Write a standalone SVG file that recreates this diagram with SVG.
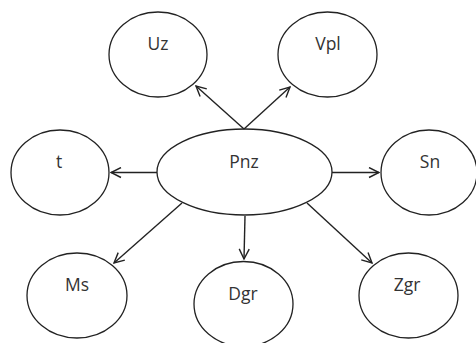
<svg xmlns="http://www.w3.org/2000/svg" width="476" height="343" viewBox="0 0 476 343">
<style>
.n ellipse{fill:#fff;stroke:#222;stroke-width:1.3}
.n text{font-family:"Open Sans","Liberation Sans",sans-serif;font-size:17.5px;fill:#333;text-anchor:middle}
.c line{stroke:#222;stroke-width:1.4;marker-end:url(#ah)}
</style>
<defs>
<marker id="ah" viewBox="0 0 12 12" refX="11" refY="6" markerWidth="12" markerHeight="12" markerUnits="userSpaceOnUse" orient="auto">
<path d="M1,1 L11,6 L1,11" fill="none" stroke="#222" stroke-width="1.4"/>
</marker>
</defs>
<rect width="476" height="343" fill="#fff"/>
<g id="Uz" class="n"><ellipse cx="158" cy="54.5" rx="49" ry="42.5"/><text x="158" y="50">Uz</text></g>
<g id="Vpl" class="n"><ellipse cx="327.5" cy="54.5" rx="49.5" ry="42.5"/><text x="328" y="50">Vpl</text></g>
<g id="t" class="n"><ellipse cx="60" cy="172.5" rx="49" ry="42.5"/><text x="59" y="168">t</text></g>
<g id="Pnz" class="n"><ellipse cx="244.5" cy="172" rx="87.5" ry="43"/><text x="244" y="168">Pnz</text></g>
<g id="Sn" class="n"><ellipse cx="429" cy="172.5" rx="48" ry="42.5"/><text x="430" y="168">Sn</text></g>
<g id="Ms" class="n"><ellipse cx="77" cy="295.5" rx="50" ry="42.5"/><text x="77" y="291">Ms</text></g>
<g id="Dgr" class="n"><ellipse cx="243.5" cy="304" rx="49.5" ry="42.5"/><text x="243" y="300">Dgr</text></g>
<g id="Zgr" class="n"><ellipse cx="408.5" cy="295.5" rx="49.5" ry="42.5"/><text x="407" y="291">Zgr</text></g>
<g id="connectors" class="c">
<line x1="244" y1="129" x2="196" y2="86"/>
<line x1="244" y1="129" x2="290" y2="87"/>
<line x1="157" y1="172.5" x2="111" y2="172.5"/>
<line x1="332" y1="172.5" x2="379" y2="172.5"/>
<line x1="182" y1="203" x2="114" y2="263"/>
<line x1="245" y1="216" x2="244" y2="259"/>
<line x1="307" y1="203" x2="372" y2="263"/>
</g>
</svg>
